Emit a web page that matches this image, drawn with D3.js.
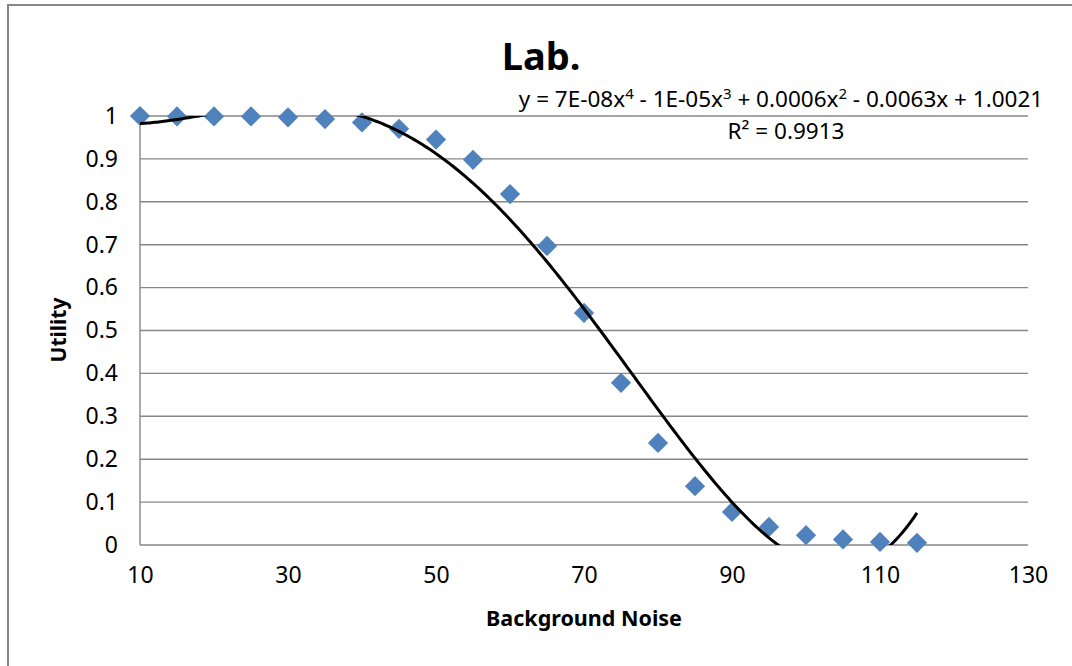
<!DOCTYPE html>
<html>
<head>
<meta charset="utf-8">
<script src="https://cdn.jsdelivr.net/npm/d3@7"></script>
<style>
  html, body { margin: 0; padding: 0; background: #fff; }
  svg { display: block; font-family: "Noto Sans", "Open Sans", sans-serif; }
</style>
</head>
<body>
<svg id="chart" width="1072" height="666"></svg>
<script>
// Measured utility against background noise level
const noise = [10, 15, 20, 25, 30, 35, 40, 45, 50, 55, 60, 65, 70, 75, 80, 85, 90, 95, 100, 105, 110, 115];
const utility = [1.0, 0.999, 0.999, 0.999, 0.997, 0.993, 0.985, 0.970, 0.945, 0.898, 0.818, 0.697, 0.541, 0.378, 0.238, 0.137, 0.077, 0.042, 0.023, 0.013, 0.007, 0.005];

const xTicks = [10, 30, 50, 70, 90, 110, 130];
const yTicks = [0, 0.1, 0.2, 0.3, 0.4, 0.5, 0.6, 0.7, 0.8, 0.9, 1];

const titleText = "Lab.";
const xTitle = "Background Noise";
const yTitle = "Utility";
const r2Label = "R² = 0.9913";
// trendline equation pieces: [text, superscript]
const eqParts = [["y = 7E-08x", "4"], [" - 1E-05x", "3"], [" + 0.0006x", "2"], [" - 0.0063x + 1.0021", ""]];

const svg = d3.select("#chart");
const W = 1072, H = 666;
const plot = { left: 140, right: 1028, top: 116, bottom: 545 };

const x = d3.scaleLinear().domain([10, 130]).range([plot.left, plot.right]);
const y = d3.scaleLinear().domain([0, 1]).range([plot.bottom, plot.top]);

const grey = "#878787";

// chart area frame
svg.append("rect")
  .attr("x", 8).attr("y", 5)
  .attr("width", W + 10).attr("height", H + 10)
  .attr("fill", "#fff").attr("stroke", grey).attr("stroke-width", 2);

// horizontal gridlines
svg.append("g").selectAll("line").data(yTicks).join("line")
  .attr("x1", plot.left).attr("x2", plot.right)
  .attr("y1", d => y(d)).attr("y2", d => y(d))
  .attr("stroke", grey).attr("stroke-width", 1.4);

// vertical axis line
svg.append("line")
  .attr("x1", plot.left).attr("x2", plot.left)
  .attr("y1", plot.top).attr("y2", plot.bottom)
  .attr("stroke", grey).attr("stroke-width", 1.4);

// y axis tick labels
const yAxis = d3.axisLeft(y).tickValues(yTicks).tickSize(0).tickPadding(22)
  .tickFormat(d => d3.format("~g")(d));
svg.append("g").attr("transform", `translate(${plot.left},0)`).call(yAxis)
  .call(g => g.select(".domain").remove())
  .call(g => g.selectAll("text").attr("font-size", 23).attr("fill", "#000")
    .attr("font-family", "'Noto Sans', sans-serif"));

// x axis tick labels
const xAxis = d3.axisBottom(x).tickValues(xTicks).tickSize(0).tickPadding(22)
  .tickFormat(d3.format("d"));
svg.append("g").attr("transform", `translate(0,${plot.bottom})`).call(xAxis)
  .call(g => g.select(".domain").remove())
  .call(g => g.selectAll("text").attr("font-size", 23).attr("fill", "#000")
    .attr("font-family", "'Noto Sans', sans-serif"));

// title
svg.append("text")
  .attr("x", 541).attr("y", 70)
  .attr("text-anchor", "middle")
  .attr("font-size", 38).attr("font-weight", "bold")
  .text(titleText);

// axis titles
svg.append("text")
  .attr("x", 584).attr("y", 626)
  .attr("text-anchor", "middle")
  .attr("font-size", 21.5).attr("font-weight", "bold")
  .text(xTitle);

svg.append("text")
  .attr("transform", "translate(66,330) rotate(-90)")
  .attr("text-anchor", "middle")
  .attr("font-size", 21).attr("font-weight", "bold")
  .text(yTitle);

// least-squares 4th-order polynomial trendline through the points
function polyFit(xs, ys, order) {
  const cx = d3.mean(xs), sx = (d3.max(xs) - d3.min(xs)) / 2;
  const n = order + 1;
  const A = Array.from({ length: n }, () => new Array(n + 1).fill(0));
  xs.forEach((xv, i) => {
    const t = (xv - cx) / sx;
    const pw = d3.range(2 * n).map(k => Math.pow(t, k));
    for (let r = 0; r < n; r++) {
      for (let c = 0; c < n; c++) A[r][c] += pw[r + c];
      A[r][n] += pw[r] * ys[i];
    }
  });
  for (let p = 0; p < n; p++) {
    let best = p;
    for (let r = p + 1; r < n; r++) if (Math.abs(A[r][p]) > Math.abs(A[best][p])) best = r;
    [A[p], A[best]] = [A[best], A[p]];
    for (let r = 0; r < n; r++) {
      if (r === p) continue;
      const f = A[r][p] / A[p][p];
      for (let c = p; c <= n; c++) A[r][c] -= f * A[p][c];
    }
  }
  const coef = A.map((row, i) => row[n] / row[i]);
  return xv => {
    const t = (xv - cx) / sx;
    return coef.reduce((s, c, k) => s + c * Math.pow(t, k), 0);
  };
}
const fit = polyFit(noise, utility, 4);
const fitX = d3.range(noise[0], noise[noise.length - 1] + 0.001, 0.25);

svg.append("clipPath").attr("id", "plotClip")
  .append("rect")
  .attr("x", plot.left).attr("y", plot.top)
  .attr("width", plot.right - plot.left).attr("height", plot.bottom - plot.top);

// data markers (diamonds)
const diamond = d3.symbol().type(d3.symbolSquare).size(205);
svg.append("g").selectAll("path").data(noise).join("path")
  .attr("d", diamond)
  .attr("transform", (d, i) => `translate(${x(d)},${y(utility[i])}) rotate(45)`)
  .attr("fill", "#4F81BD");

svg.append("path")
  .datum(fitX)
  .attr("clip-path", "url(#plotClip)")
  .attr("fill", "none")
  .attr("stroke", "#000")
  .attr("stroke-width", 3)
  .attr("d", d3.line().x(d => x(d)).y(d => y(fit(d))));

// trendline label
const eq = svg.append("text")
  .attr("x", 781).attr("y", 107)
  .attr("text-anchor", "middle")
  .attr("font-size", 22.5);
let raised = false;
eqParts.forEach(([t, sup]) => {
  eq.append("tspan").attr("dy", raised ? 8 : 0).text(t);
  raised = false;
  if (sup) {
    eq.append("tspan").attr("dy", -8).attr("font-size", 15).text(sup);
    raised = true;
  }
});

svg.append("text")
  .attr("x", 786).attr("y", 139)
  .attr("text-anchor", "middle")
  .attr("font-size", 22.5)
  .text(r2Label);
</script>
</body>
</html>
